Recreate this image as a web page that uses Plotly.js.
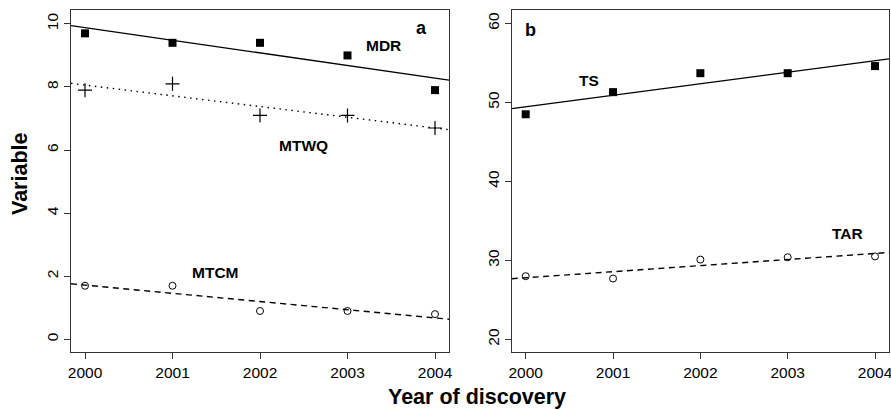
<!DOCTYPE html>
<html>
<head>
<meta charset="utf-8">
<script src="https://cdn.plot.ly/plotly-3.0.1.min.js"></script>
<style>
  html, body { margin: 0; padding: 0; background: #fff; }
  #chart { width: 891px; height: 410px; }
</style>
</head>
<body>
<div id="chart"></div>
<script>
// Years of discovery shared by both panels
const years = [2000, 2001, 2002, 2003, 2004];
const yearTicks = ['2000', '2001', '2002', '2003', '2004'];

// Panel a: climate variables
const mdr  = [9.7, 9.4, 9.4, 9.0, 7.9];
const mtwq = [7.9, 8.1, 7.1, 7.1, 6.7];
const mtcm = [1.7, 1.7, 0.9, 0.9, 0.8];

// Panel b
const ts  = [48.5, 51.3, 53.7, 53.7, 54.6];
const tar = [28.0, 27.7, 30.1, 30.4, 30.5];

const xRange = [1999.84, 2004.16];
const yRangeA = [-0.4, 10.44];
const yRangeB = [18.4, 61.7];

// Ordinary least-squares fit, evaluated across the full x axis
function fitLine(xs, ys) {
  const n = xs.length;
  const mx = xs.reduce((a, b) => a + b, 0) / n;
  const my = ys.reduce((a, b) => a + b, 0) / n;
  let sxy = 0, sxx = 0;
  for (let i = 0; i < n; i++) {
    sxy += (xs[i] - mx) * (ys[i] - my);
    sxx += (xs[i] - mx) * (xs[i] - mx);
  }
  const slope = sxy / sxx;
  return { x: xRange.slice(), y: xRange.map(x => my + slope * (x - mx)) };
}

const FONT = 'Liberation Sans, Arial, Helvetica, sans-serif';

function pts(ys, xa, ya, symbol, size, lineWidth) {
  return {
    x: years, y: ys, xaxis: xa, yaxis: ya, type: 'scatter', mode: 'markers',
    marker: {
      symbol: symbol, size: size, color: '#000',
      line: { color: '#000', width: lineWidth }
    },
    hoverinfo: 'skip', showlegend: false, cliponaxis: false
  };
}

function trend(ys, xa, ya, dash) {
  const f = fitLine(years, ys);
  return {
    x: f.x, y: f.y, xaxis: xa, yaxis: ya, type: 'scatter', mode: 'lines',
    line: { color: '#000', width: 1.4, dash: dash },
    hoverinfo: 'skip', showlegend: false
  };
}

const data = [
  trend(mdr, 'x', 'y', 'solid'),
  trend(mtwq, 'x', 'y', '1.5px,4.5px'),
  trend(mtcm, 'x', 'y', '6px,4.5px'),
  pts(mdr, 'x', 'y', 'square', 8, 0),
  pts(mtwq, 'x', 'y', 'cross-thin', 10, 1.2),
  pts(mtcm, 'x', 'y', 'circle-open', 7, 1),
  trend(ts, 'x2', 'y2', 'solid'),
  trend(tar, 'x2', 'y2', '6px,4.5px'),
  pts(ts, 'x2', 'y2', 'square', 8, 0),
  pts(tar, 'x2', 'y2', 'circle-open', 7, 1)
];

function xAxis(domain, anchor) {
  return {
    domain: domain, anchor: anchor, range: xRange,
    tickvals: years, ticktext: yearTicks,
    ticks: 'outside', ticklen: 6, tickwidth: 1, tickcolor: '#333',
    showline: true, mirror: true, linecolor: '#333', linewidth: 1,
    showgrid: false, zeroline: false, ticklabeloverflow: 'allow',
    tickfont: { family: FONT, size: 15.5, color: '#000' }
  };
}
function yAxis(range, dtick, anchor) {
  return {
    anchor: anchor, range: range, dtick: dtick, tick0: 0,
    ticks: 'outside', ticklen: 6, tickwidth: 1, tickcolor: '#333',
    showline: true, mirror: true, linecolor: '#333', linewidth: 1,
    showgrid: false, zeroline: false, tickangle: -90,
    tickfont: { family: FONT, size: 15.5, color: '#000' }
  };
}

function label(text, xref, yref, x, y, size) {
  return {
    text: text, xref: xref, yref: yref, x: x, y: y, showarrow: false,
    xanchor: 'center', yanchor: 'middle',
    font: { family: FONT, size: size, color: '#000', weight: 'bold' }
  };
}

const layout = {
  width: 891, height: 410,
  margin: { l: 71, r: 2, t: 10, b: 58, pad: 0 },
  paper_bgcolor: '#fff', plot_bgcolor: '#fff',
  showlegend: false,
  xaxis: xAxis([0, 0.4621], 'y'),
  yaxis: yAxis(yRangeA, 2, 'x'),
  xaxis2: xAxis([0.5388, 1], 'y2'),
  yaxis2: yAxis(yRangeB, 10, 'x2'),
  annotations: [
    label('<b>a</b>', 'x', 'y', 2003.85, 9.86, 18),
    label('<b>MDR</b>', 'x', 'y', 2003.41, 9.32, 15.5),
    label('<b>MTWQ</b>', 'x', 'y', 2002.50, 6.15, 15.5),
    label('<b>MTCM</b>', 'x', 'y', 2001.49, 2.13, 15.5),
    label('<b>b</b>', 'x2', 'y2', 2000.06, 59.15, 18),
    label('<b>TS</b>', 'x2', 'y2', 2000.73, 52.82, 15.5),
    label('<b>TAR</b>', 'x2', 'y2', 2003.68, 33.4, 15.5),
    {
      text: '<b>Year of discovery</b>', xref: 'paper', yref: 'paper',
      x: 0.496, y: -0.132, xanchor: 'center', yanchor: 'middle', showarrow: false,
      font: { family: FONT, size: 21.5, color: '#000' }
    },
    {
      text: '<b>Variable</b>', xref: 'paper', yref: 'paper', textangle: -90,
      x: -0.0623, y: 0.5205, xanchor: 'center', yanchor: 'middle', showarrow: false,
      font: { family: FONT, size: 21.5, color: '#000' }
    }
  ]
};

Plotly.newPlot('chart', data, layout, { staticPlot: true, displayModeBar: false });
</script>
</body>
</html>
